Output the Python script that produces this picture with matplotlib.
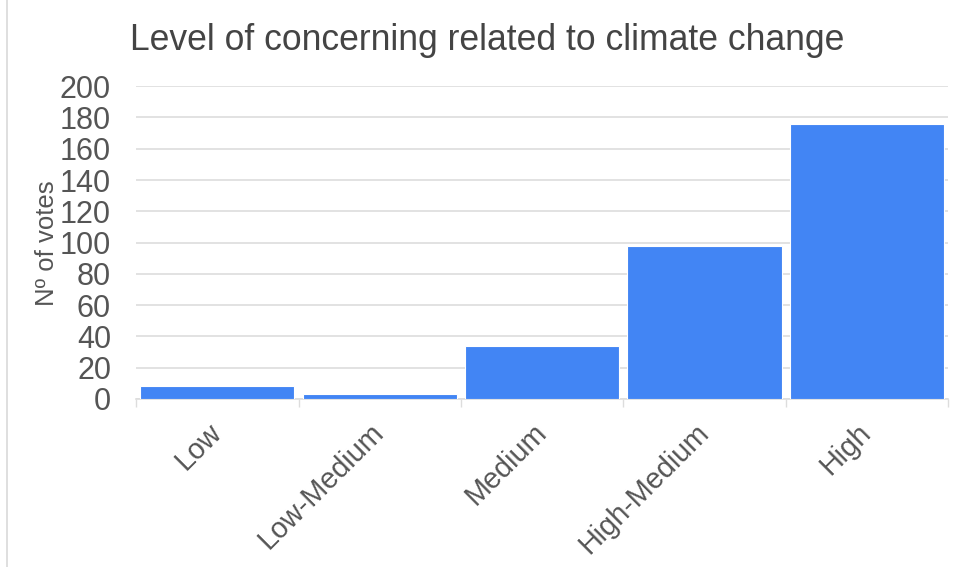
import matplotlib.pyplot as plt
from matplotlib.lines import Line2D
from matplotlib.ticker import FixedLocator, NullFormatter

plt.rcParams['font.family'] = ['Liberation Sans', 'DejaVu Sans']

# Votes per concern level
categories = ['Low', 'Low-Medium', 'Medium', 'High-Medium', 'High']
votes = [8, 3, 34, 98, 176]
yticks = [0, 20, 40, 60, 80, 100, 120, 140, 160, 180, 200]

text_color = '#555555'
grid_color = '#dddddd'
bar_color = '#4285f4'

fig = plt.figure(figsize=(9.56, 5.67), dpi=100)
ax = fig.add_axes([0.1423, 0.2963, 0.8497, 0.5517])

x = list(range(len(categories)))
ax.bar(x, votes, width=0.95, color=bar_color, edgecolor='white', linewidth=0.8, zorder=3)

ax.set_xlim(-0.5, len(categories) - 0.5)
ax.set_ylim(0, 200)
ax.set_yticks(yticks)
ax.set_yticklabels([str(v) for v in yticks])
ax.grid(axis='y', color=grid_color, linewidth=1.2, zorder=0)

# category labels centred, tick marks on the boundaries
ax.set_xticks(x)
ax.set_xticklabels(categories, rotation=45, ha='right', va='center', rotation_mode='anchor')
ax.xaxis.set_minor_locator(FixedLocator([i - 0.5 for i in range(len(categories) + 1)]))
ax.xaxis.set_minor_formatter(NullFormatter())
ax.tick_params(axis='x', which='major', length=0, pad=21, labelsize=20.7, labelcolor=text_color)
ax.tick_params(axis='x', which='minor', length=6, width=1, color=grid_color, direction='out')
ax.tick_params(axis='y', length=0, pad=18, labelsize=22, labelcolor=text_color)

for side in ['top', 'right', 'left']:
    ax.spines[side].set_visible(False)
ax.spines['bottom'].set_color(grid_color)
ax.spines['bottom'].set_linewidth(1.2)

ax.set_ylabel('Nº of votes', fontsize=18.5, color=text_color)
ax.yaxis.set_label_coords(59 / 956, (567 - 243) / 567, transform=fig.transFigure)

fig.text(130 / 956, 1 - 41 / 567, 'Level of concerning related to climate change',
         fontsize=25.6, color='#444444', ha='left', va='center')

# thin frame line along the left edge
fig.add_artist(Line2D([7 / 956, 7 / 956], [0, 1], color='#d9d9d9', linewidth=1.2,
                      transform=fig.transFigure))

fig.savefig('out.png', dpi=100)
